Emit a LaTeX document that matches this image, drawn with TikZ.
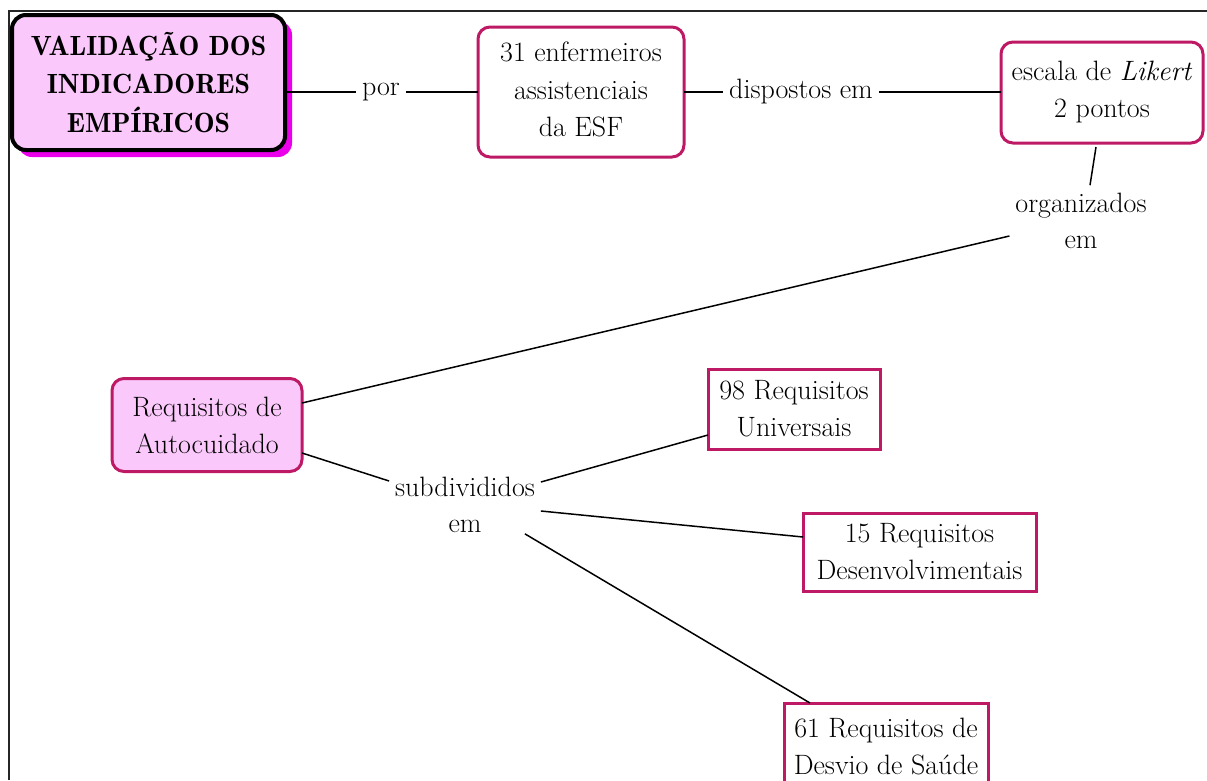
\documentclass[tikz,border=0pt]{standalone}
\usepackage{fontspec}
\newfontfamily\demifont{lmromandemi10-regular.otf}
\usetikzlibrary{calc}
\definecolor{boxedge}{RGB}{190,25,100}
\definecolor{boxpink}{RGB}{250,200,250}
\definecolor{shadowpink}{RGB}{235,0,235}
\begin{document}
\begin{tikzpicture}[x=1pt,y=-1pt,
  every node/.style={outer sep=0pt},
  body/.style={font=\fontsize{28}{37}\selectfont, align=center, inner sep=0pt},
  roundbox/.style={body, draw=boxedge, line width=3pt, rounded corners=12pt, fill=white},
  pinkbox/.style={roundbox, fill=boxpink},
  squarebox/.style={body, draw=boxedge, line width=3pt, fill=white},
  titlebox/.style={body, font=\demifont\fontsize{27.8}{38.5}\selectfont, draw=black,
    line width=4pt, rounded corners=14pt, fill=boxpink},
  linklabel/.style={font=\fontsize{28}{36}\selectfont, align=center, inner sep=6pt},
  link/.style={draw=black, line width=1.5pt}]

\useasboundingbox (0,0) rectangle (1207,780);

% page frame (top and left rules)
\draw[line width=2pt, black!85] (1207,11) -- (9,11) -- (9,780);

% title with its offset shadow
\fill[shadowpink, rounded corners=14pt] (18,21) rectangle (292,157);
\node[titlebox, minimum width=273pt, minimum height=135pt] (title) at (148.5,82.5)
  {VALIDAÇÃO DOS\\INDICADORES\\EMPÍRICOS};

% concept boxes
\node[roundbox, minimum width=206pt, minimum height=130pt] (nurse) at (581,92)
  {\raisebox{-2pt}{\begin{tabular}{@{}c@{}}31 enfermeiros\\[0.5pt]assistenciais\\[0.5pt]da ESF\end{tabular}}};
\node[roundbox, minimum width=202pt, minimum height=101pt] (likert) at (1102,92.5)
  {escala de \textit{Likert}\\2 pontos};
\node[pinkbox, minimum width=190pt, minimum height=93pt] (req) at (207,425)
  {Requisitos de\\Autocuidado};
\node[squarebox, minimum width=172pt, minimum height=80pt] (univ) at (794,409)
  {98 Requisitos\\Universais};
\node[squarebox, minimum width=233pt, minimum height=78pt] (dev) at (919.5,552)
  {15 Requisitos\\Desenvolvimentais};
\node[squarebox, minimum width=204pt, minimum height=86pt] (health) at (886,746)
  {61 Requisitos de\\Desvio de Saúde};

% linking phrases
\node[linklabel] (por) at (381,92) {por};
\node[linklabel] (disp) at (801,92) {dispostos em};
\node[linklabel] (org) at (1081,221) {organizados\\em};
\node[linklabel] (sub) at (465,505) {subdivididos\\em};

% connectors
\draw[link] (title.east |- por.west) -- (por.west);
\draw[link] (por.east) -- (nurse.west |- por.east);
\draw[link] (nurse.east |- disp.west) -- (disp.west);
\draw[link] (disp.east) -- (likert.west |- disp.east);
\draw[link] ($(likert.south)+(-6,4)$) -- ($(org.north)+(9,-2)$);
\draw[link] ($(org.west)+(0,15)$) -- ([yshift=22pt]req.east);
\draw[link] ([yshift=-28pt]req.east) -- ([yshift=24pt]sub.west);
\draw[link] ([yshift=23pt]sub.east) -- ([yshift=-26pt]univ.west);
\draw[link] ([yshift=-6pt]sub.east) -- ([yshift=15pt]dev.west);
\draw[link] ($(sub.south east)+(-16,-5)$) -- ([xshift=26pt]health.north west);

\end{tikzpicture}
\end{document}
